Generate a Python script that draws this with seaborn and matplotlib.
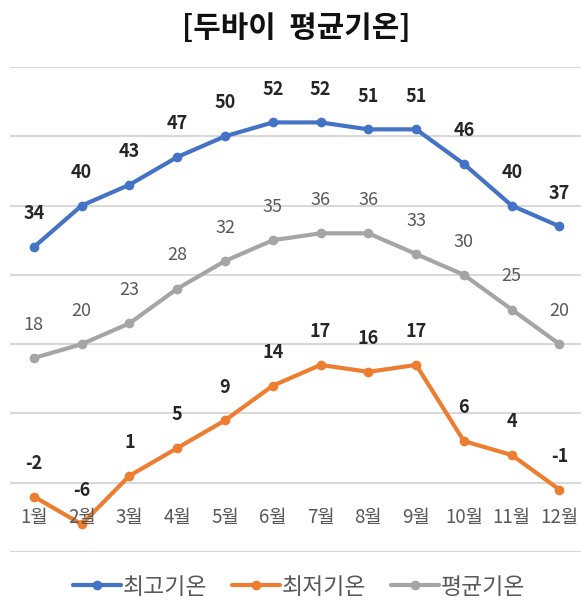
import numpy as np
import pandas as pd
import seaborn as sns
import matplotlib.pyplot as plt

months = ['1월', '2월', '3월', '4월', '5월', '6월', '7월', '8월', '9월', '10월', '11월', '12월']
high_temp = [34, 40, 43, 47, 50, 52, 52, 51, 51, 46, 40, 37]
low_temp = [-2, -6, 1, 5, 9, 14, 17, 16, 17, 6, 4, -1]
avg_temp = [18, 20, 23, 28, 32, 35, 36, 36, 33, 30, 25, 20]

sns.set_style('white')
plt.rcParams['font.family'] = ['Noto Sans CJK KR', 'DejaVu Sans']

x = np.arange(1, 13)
series = [
    ('최고기온', high_temp, '#4472C4', 'bold', '#262626'),
    ('최저기온', low_temp, '#ED7D31', 'bold', '#262626'),
    ('평균기온', avg_temp, '#A5A5A5', 'normal', '#595959'),
]

fig = plt.figure(figsize=(5.81, 6.09), dpi=100)
ax = fig.add_axes([10 / 581, 1 - 552 / 609, 571 / 581, (552 - 67) / 609])

for name, vals, color, weight, tcolor in series:
    df = pd.DataFrame({'month': x, 'temp': vals})
    sns.lineplot(data=df, x='month', y='temp', ax=ax, color=color, label=name,
                 marker='o', markersize=7, markeredgewidth=0, linewidth=3)
    for xi, v in zip(x, vals):
        ax.annotate(str(v), (xi, v), xytext=(0, 24), textcoords='offset points',
                    ha='center', va='center', fontsize=13, fontweight=weight,
                    color=tcolor)

ax.set_xlim(0.5, 12.45)
ax.set_ylim(-10, 60)
ax.set_yticks(range(-10, 61, 10))
ax.yaxis.grid(True, color='#D9D9D9', linewidth=1.5)
ax.set_yticklabels([])
ax.tick_params(left=False, bottom=False)
ax.set_xticks([])
ax.set_xlabel('')
ax.set_ylabel('')
for s in ax.spines.values():
    s.set_visible(False)

for xi, m in zip(x, months):
    ax.text(xi, -5, m, ha='center', va='center', fontsize=13.5, color='#595959')

handles, labels = ax.get_legend_handles_labels()
ax.get_legend().remove()
fig.legend(handles, labels, loc='center', bbox_to_anchor=(299 / 581, 1 - 587 / 609),
           ncol=3, frameon=False, fontsize=16.5, handlelength=2.1,
           handletextpad=0.05, columnspacing=1.1, labelcolor='#595959')

fig.text(0.51, 1 - 28 / 609, '[두바이  평균기온]', ha='center', va='center',
         fontsize=21.5, fontweight='bold', color='#111111')

fig.savefig('out.png', dpi=100)
